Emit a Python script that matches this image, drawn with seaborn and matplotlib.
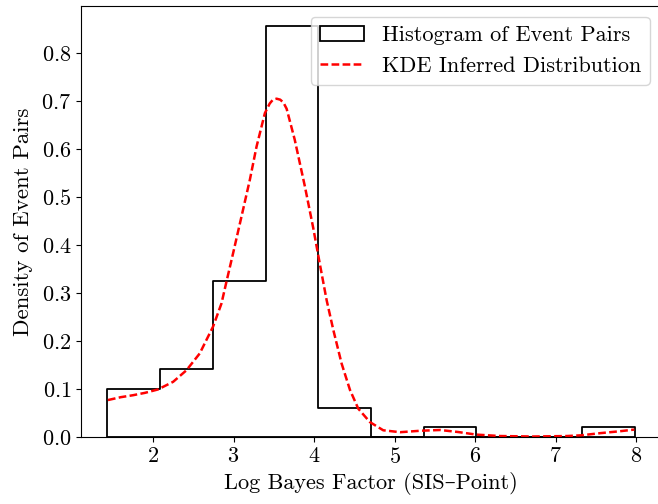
import matplotlib
matplotlib.use("Agg")
import matplotlib.pyplot as plt
import seaborn as sns
import numpy as np

# ---- data ----
bin_edges = [1.433, 2.088, 2.743, 3.398, 4.053, 4.708, 5.363, 6.018, 6.673, 7.328, 7.983]
bin_density = [0.101, 0.142, 0.325, 0.856, 0.061, 0.0, 0.020, 0.0, 0.0, 0.020]

kde_x = [1.44, 1.60, 1.75, 1.90, 2.06, 2.25, 2.415, 2.58, 2.746, 2.85, 2.913, 2.995,
         3.10, 3.203, 3.286, 3.39, 3.45, 3.49, 3.535, 3.58, 3.62, 3.66, 3.76, 3.887, 3.99, 4.073,
         4.157, 4.24, 4.343, 4.447, 4.55, 4.695, 4.86, 5.07, 5.32, 5.566, 5.79, 6.014,
         6.31, 6.726, 7.14, 7.32, 7.556, 7.80, 7.98]
kde_y = [0.077, 0.083, 0.087, 0.092, 0.099, 0.115, 0.139, 0.174, 0.230, 0.278, 0.324, 0.383,
         0.460, 0.536, 0.605, 0.675, 0.695, 0.703, 0.705, 0.703, 0.697, 0.684, 0.620, 0.522, 0.436, 0.360,
         0.285, 0.223, 0.153, 0.098, 0.059, 0.031, 0.014, 0.010, 0.013, 0.0146, 0.0104, 0.005,
         0.002, 0.001, 0.002, 0.0035, 0.008, 0.012, 0.0155]

hist_label = "Histogram of Event Pairs"
kde_label = "KDE Inferred Distribution"
xlabel = "Log Bayes Factor (SIS–Point)"
ylabel = "Density of Event Pairs"

# ---- style ----
plt.rcParams["font.family"] = ["cmr10", "DejaVu Serif"]
plt.rcParams["mathtext.fontset"] = "cm"
plt.rcParams["axes.formatter.use_mathtext"] = True
plt.rcParams["font.size"] = 16

fig = plt.figure(figsize=(6.58, 5.04), dpi=100)
ax = fig.add_axes([81 / 658, 67 / 504, 580 / 658, 431.3 / 504])

centers = [(bin_edges[i] + bin_edges[i + 1]) / 2 for i in range(len(bin_density))]

sns.histplot(x=centers, weights=bin_density, bins=bin_edges, stat="count",
             element="step", fill=True, color="black", facecolor="none",
             edgecolor="black", linewidth=1.3, label=hist_label, ax=ax)

lw = 1.8
sns.lineplot(x=kde_x, y=kde_y, color="red", linestyle=(0, (5.55 / lw, 2.4 / lw)),
             linewidth=lw, label=kde_label, ax=ax)

ax.set_xlabel(xlabel, fontsize=16)
ax.set_ylabel(ylabel, fontsize=16.5, labelpad=6)
ax.tick_params(labelsize=16)
ax.legend(loc="upper right", fontsize=16)

fig.savefig("out.png", dpi=100)
